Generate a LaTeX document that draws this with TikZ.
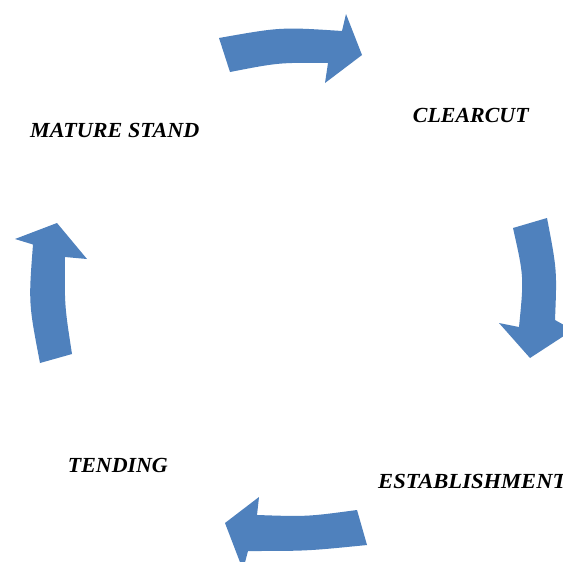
\documentclass[tikz,border=0pt]{standalone}
\usepackage{graphicx}
\usepackage{fontspec}
\setmainfont{Liberation Serif}
\begin{document}
\begin{tikzpicture}[x=1pt,y=-1pt,
  arrowfill/.style={fill={rgb,255:red,79;green,129;blue,189}},
  label/.style={inner sep=0pt,anchor=base west,font=\fontsize{21.5}{24}\selectfont\bfseries\itshape}]
\useasboundingbox (0,0) rectangle (563,562);
\clip (0,0) rectangle (563,562);
\fill[white] (0,0) rectangle (563,562);
% top arrow
\fill[arrowfill] (219,38) .. controls (281,27) .. (342,31) -- (346,14) -- (362,55) -- (325,83) -- (328,63) .. controls (279,62.5) .. (230,72) -- cycle;
% right arrow
\fill[arrowfill] (547,218) .. controls (557,270) .. (555,320) -- (573,330) -- (530,358) -- (499,323) -- (519,327) .. controls (524,277) .. (513,228) -- cycle;
% bottom arrow
\fill[arrowfill] (357,510) .. controls (307,516.7) .. (257,515) -- (259,497) -- (225,523) -- (243,570) -- (248,551) .. controls (307,551) .. (367,545) -- cycle;
% left arrow
\fill[arrowfill] (40,363) .. controls (28.5,303) .. (33,244.5) -- (15,239) -- (57,223) -- (87,259) -- (65,257) .. controls (64.5,305.5) .. (72,354) -- cycle;
% labels
\node[label] (mature) at (30,137.7) {\scalebox{1.03}[1]{MATURE STAND}};
\node[label] (clear) at (412.7,122.3) {\scalebox{1.02}[1]{CLEARCUT}};
\node[label] (estab) at (378,488.3) {\scalebox{1.05}[1]{ESTABLISHMENT}};
\node[label] (tend) at (67.7,472.3) {\scalebox{1.02}[1]{TENDING}};
\end{tikzpicture}
\end{document}
